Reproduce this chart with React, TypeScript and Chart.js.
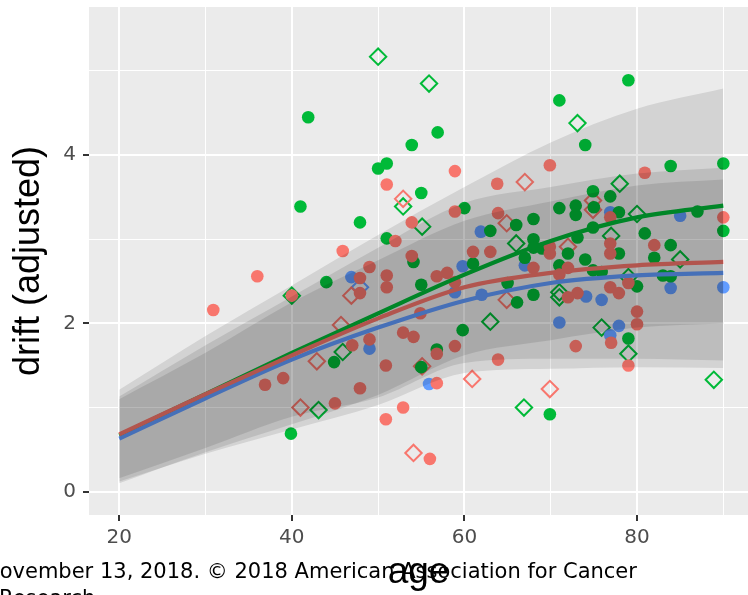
import React, { useEffect, useRef } from "react";
import { Chart, registerables } from "chart.js";

Chart.register(...registerables);

// ---------- data ----------
const redCircleAge = [30.9, 36.0, 36.9, 39.0, 40.0, 45.0, 45.9, 47.0, 47.9, 47.9, 47.9, 49.0, 49.0, 50.9, 51.0, 51.0, 51.0, 50.9, 52.0, 52.9, 52.9, 54.1, 53.9, 53.9, 54.9, 56.0, 56.8, 56.8, 56.8, 58.0, 58.9, 58.9, 58.9, 58.9, 61.0, 63.0, 63.8, 63.9, 63.9, 68.0, 69.9, 69.9, 69.9, 71.0, 72.0, 72.9, 73.1, 72.0, 76.9, 76.9, 76.9, 76.9, 77.9, 77.0, 79.0, 79.0, 80.0, 80.0, 80.9, 82.0, 90.0];
const redCircleDrift = [2.16, 2.56, 1.27, 1.35, 2.33, 1.05, 2.86, 1.74, 2.54, 2.36, 1.23, 2.67, 1.81, 1.50, 3.65, 2.57, 2.43, 0.86, 2.98, 1.89, 1.00, 1.84, 3.20, 2.80, 2.12, 0.39, 1.29, 1.64, 2.56, 2.60, 3.81, 3.33, 2.49, 1.73, 2.85, 2.85, 3.66, 3.31, 1.57, 2.66, 3.88, 2.91, 2.83, 2.58, 2.66, 1.73, 2.36, 2.31, 3.26, 2.95, 2.83, 2.43, 2.36, 1.77, 2.48, 1.50, 2.14, 1.99, 3.79, 2.93, 3.26];

const redDiamondAge = [41.0, 42.9, 45.7, 46.9, 52.9, 54.1, 55.1, 60.9, 64.9, 64.9, 67.0, 69.9, 72.0, 74.9, 74.9];
const redDiamondDrift = [1.00, 1.55, 1.98, 2.33, 3.48, 0.46, 1.49, 1.34, 3.19, 2.28, 3.68, 1.22, 2.91, 3.46, 3.35];

const greenCircleAge = [39.9, 41.0, 41.9, 44.0, 44.9, 47.9, 50.0, 51.0, 51.0, 53.9, 54.1, 55.0, 55.0, 55.0, 56.8, 56.9, 59.8, 60.0, 61.0, 63.0, 65.0, 66.0, 66.1, 67.0, 68.0, 68.0, 68.0, 68.0, 69.0, 69.9, 71.0, 71.0, 71.0, 72.0, 72.9, 72.9, 73.1, 74.0, 74.0, 74.9, 74.9, 74.9, 75.0, 75.9, 76.9, 77.9, 77.9, 79.0, 79.0, 80.0, 80.9, 82.0, 83.0, 83.9, 83.9, 83.9, 87.0, 90.0, 90.0];
const greenCircleDrift = [0.69, 3.39, 4.45, 2.49, 1.54, 3.20, 3.84, 3.90, 3.01, 4.12, 2.73, 3.55, 2.46, 1.48, 1.69, 4.27, 1.92, 3.37, 2.71, 3.10, 2.48, 3.17, 2.25, 2.78, 3.24, 3.00, 2.90, 2.34, 2.89, 0.92, 4.65, 3.37, 2.69, 2.83, 3.40, 3.29, 3.02, 4.12, 2.76, 3.57, 3.14, 2.63, 3.38, 2.61, 3.51, 3.32, 2.83, 4.89, 1.82, 2.44, 3.07, 2.78, 2.57, 2.56, 3.87, 2.93, 3.33, 3.90, 3.10];

const greenDiamondAge = [40.0, 43.1, 45.9, 50.0, 52.9, 55.1, 55.9, 63.0, 66.0, 66.9, 71.0, 71.0, 73.1, 75.9, 77.0, 78.0, 79.0, 79.0, 80.0, 85.0, 88.9];
const greenDiamondDrift = [2.33, 0.97, 1.66, 5.17, 3.39, 3.15, 4.85, 2.02, 2.95, 1.00, 2.37, 2.31, 4.38, 1.95, 3.04, 3.66, 2.55, 1.64, 3.30, 2.76, 1.33];

const blueCircleAge = [46.9, 49.0, 55.9, 58.9, 59.8, 61.9, 62.0, 67.0, 71.0, 74.1, 75.9, 76.9, 76.9, 77.9, 83.9, 85.0, 90.0];
const blueCircleDrift = [2.55, 1.70, 1.28, 2.37, 2.68, 3.09, 2.34, 2.69, 2.01, 2.32, 2.28, 3.32, 1.86, 1.97, 2.42, 3.28, 2.43];

const blueDiamondAge = [47.9];
const blueDiamondDrift = [2.43];

// fitted curves and bands, read at these ages
const fitAge = [20, 30, 40, 50, 60, 70, 80, 90];
const greenFit = [0.67, 1.16, 1.65, 2.12, 2.58, 2.98, 3.26, 3.40];
const redFit = [0.68, 1.16, 1.62, 2.06, 2.43, 2.60, 2.69, 2.73];
const blueFit = [0.63, 1.11, 1.57, 1.95, 2.27, 2.48, 2.57, 2.60];
const greenUpper = [1.21, 1.85, 2.45, 3.05, 3.62, 4.15, 4.55, 4.79];
const greenLower = [0.10, 0.47, 0.80, 1.15, 1.62, 1.80, 1.95, 2.00];
const redUpper = [1.13, 1.74, 2.32, 2.90, 3.43, 3.62, 3.78, 3.85];
const redLower = [0.16, 0.52, 0.89, 1.12, 1.53, 1.58, 1.58, 1.56];
const blueUpper = [1.10, 1.65, 2.25, 2.75, 3.22, 3.45, 3.64, 3.71];
const blueLower = [0.12, 0.45, 0.74, 1.03, 1.41, 1.46, 1.48, 1.47];

const xTicks = [20, 30, 40, 50, 60, 70, 80, 90];
const yTicks = [0, 1, 2, 3, 4, 5];

const RED = "#F8766D";
const GREEN = "#00BA38";
const BLUE = "#619CFF";

const footerLine1 = "November 13, 2018. © 2018 American Association for Cancer";
const footerLine2 = "Research.";

function pts(xs: number[], ys: number[]) {
  return xs.map((x, i) => ({ x, y: ys[i] }));
}

export default function App() {
  const ref = useRef<HTMLCanvasElement>(null);

  useEffect(() => {
    if (!ref.current) return;

    const circle = (label: string, xs: number[], ys: number[], color: string) => ({
      type: "scatter" as const,
      label,
      data: pts(xs, ys),
      pointStyle: "circle",
      pointRadius: 6.3,
      pointBorderWidth: 0,
      backgroundColor: color,
      borderColor: color,
      order: 3,
    });
    const diamond = (label: string, xs: number[], ys: number[], color: string) => ({
      type: "scatter" as const,
      label,
      data: pts(xs, ys),
      pointStyle: "rectRot",
      pointRadius: 8.2,
      pointBorderWidth: 2,
      backgroundColor: "rgba(0,0,0,0)",
      borderColor: color,
      order: 3,
    });
    const fitLine = (label: string, ys: number[], color: string) => ({
      type: "line" as const,
      label,
      data: pts(fitAge, ys),
      borderColor: color,
      borderWidth: 4.2,
      pointRadius: 0,
      fill: false,
      cubicInterpolationMode: "monotone" as const,
      order: 2,
    });
    const bandUpper = (label: string, ys: number[]) => ({
      type: "line" as const,
      label,
      data: pts(fitAge, ys),
      borderWidth: 0,
      borderColor: "rgba(0,0,0,0)",
      backgroundColor: "rgba(0,0,0,0.1)",
      pointRadius: 0,
      fill: "+1",
      cubicInterpolationMode: "monotone" as const,
      order: 1,
    });
    const bandLower = (label: string, ys: number[]) => ({
      type: "line" as const,
      label,
      data: pts(fitAge, ys),
      borderWidth: 0,
      borderColor: "rgba(0,0,0,0)",
      pointRadius: 0,
      fill: false,
      cubicInterpolationMode: "monotone" as const,
      order: 1,
    });

    const bgPlugin = {
      id: "panelBg",
      beforeDraw(chart: any) {
        const { ctx, chartArea } = chart;
        ctx.save();
        ctx.fillStyle = "#FFFFFF";
        ctx.fillRect(0, 0, chart.width, chart.height);
        ctx.fillStyle = "#EBEBEB";
        ctx.fillRect(chartArea.left, chartArea.top, chartArea.right - chartArea.left, chartArea.bottom - chartArea.top);
        ctx.restore();
      },
    };
    const footerPlugin = {
      id: "footer",
      afterDraw(chart: any) {
        const { ctx } = chart;
        ctx.save();
        ctx.fillStyle = "#000000";
        ctx.font = '21px "DejaVu Sans"';
        ctx.textBaseline = "alphabetic";
        ctx.textAlign = "left";
        ctx.fillText(footerLine1, -16, 578);
        ctx.fillText(footerLine2, -1, 605);
        ctx.restore();
      },
    };

    const isMajorX = (v: number) => v % 20 === 0;
    const isMajorY = (v: number) => v % 2 === 0;

    const chart = new Chart(ref.current, {
      type: "scatter",
      data: {
        datasets: [
          circle("red", redCircleAge, redCircleDrift, RED),
          circle("green", greenCircleAge, greenCircleDrift, GREEN),
          circle("blue", blueCircleAge, blueCircleDrift, BLUE),
          diamond("red ◇", redDiamondAge, redDiamondDrift, RED),
          diamond("green ◇", greenDiamondAge, greenDiamondDrift, GREEN),
          diamond("blue ◇", blueDiamondAge, blueDiamondDrift, BLUE),
          fitLine("red fit", redFit, RED),
          fitLine("blue fit", blueFit, BLUE),
          fitLine("green fit", greenFit, GREEN),
          bandUpper("green upper", greenUpper),
          bandLower("green lower", greenLower),
          bandUpper("red upper", redUpper),
          bandLower("red lower", redLower),
          bandUpper("blue upper", blueUpper),
          bandLower("blue lower", blueLower),
        ] as any,
      },
      options: {
        responsive: false,
        maintainAspectRatio: false,
        animation: false,
        devicePixelRatio: 1,
        events: [],
        layout: { autoPadding: false, padding: { top: 7, left: 0, right: 0, bottom: 0 } },
        plugins: {
          legend: { display: false },
          tooltip: { enabled: false },
          filler: { propagate: false },
        },
        scales: {
          x: {
            type: "linear",
            min: 16.5,
            max: 92.86,
            afterBuildTicks: (s: any) => {
              s.ticks = xTicks.map((v) => ({ value: v }));
            },
            afterFit: (s: any) => {
              s.height = 80;
              s.paddingLeft = 0;
              s.paddingRight = 0;
            },
            border: { display: false },
            grid: {
              color: "#FFFFFF",
              lineWidth: (c: any) => (isMajorX(c.tick.value) ? 2 : 1),
              tickColor: (c: any) => (isMajorX(c.tick.value) ? "#333333" : "rgba(0,0,0,0)"),
              tickLength: 6,
              tickWidth: 2,
            },
            ticks: {
              autoSkip: false,
              maxRotation: 0,
              padding: 5,
              color: "#4D4D4D",
              font: { family: '"DejaVu Sans"', size: 20 },
              callback: (v: any) => (isMajorX(Number(v)) ? String(v) : ""),
            },
            title: {
              display: true,
              text: "age",
              color: "#000000",
              font: { family: '"Liberation Sans"', size: 37 },
              padding: { top: 0, bottom: 0 },
            },
          },
          y: {
            type: "linear",
            min: -0.277,
            max: 5.76,
            afterBuildTicks: (s: any) => {
              s.ticks = yTicks.map((v) => ({ value: v }));
            },
            afterFit: (s: any) => {
              s.width = 89;
              s.paddingTop = 0;
              s.paddingBottom = 0;
            },
            border: { display: false },
            grid: {
              color: "#FFFFFF",
              lineWidth: (c: any) => (isMajorY(c.tick.value) ? 2 : 1),
              tickColor: (c: any) => (isMajorY(c.tick.value) ? "#333333" : "rgba(0,0,0,0)"),
              tickLength: 6,
              tickWidth: 2,
            },
            ticks: {
              autoSkip: false,
              padding: 7,
              color: "#4D4D4D",
              font: { family: '"DejaVu Sans"', size: 20 },
              callback: (v: any) => (isMajorY(Number(v)) ? String(v) : ""),
            },
            title: {
              display: true,
              text: "drift (adjusted)",
              color: "#000000",
              font: { family: '"Liberation Sans"', size: 36 },
              padding: { top: 7, bottom: 0 },
            },
          },
        },
      } as any,
      plugins: [bgPlugin, footerPlugin],
    });

    return () => chart.destroy();
  }, []);

  return (
    <div style={{ position: "fixed", left: 0, top: 0, width: 748, height: 595, background: "#fff", overflow: "hidden" }}>
      <canvas ref={ref} width={748} height={595} style={{ display: "block", width: 748, height: 595 }} />
    </div>
  );
}
